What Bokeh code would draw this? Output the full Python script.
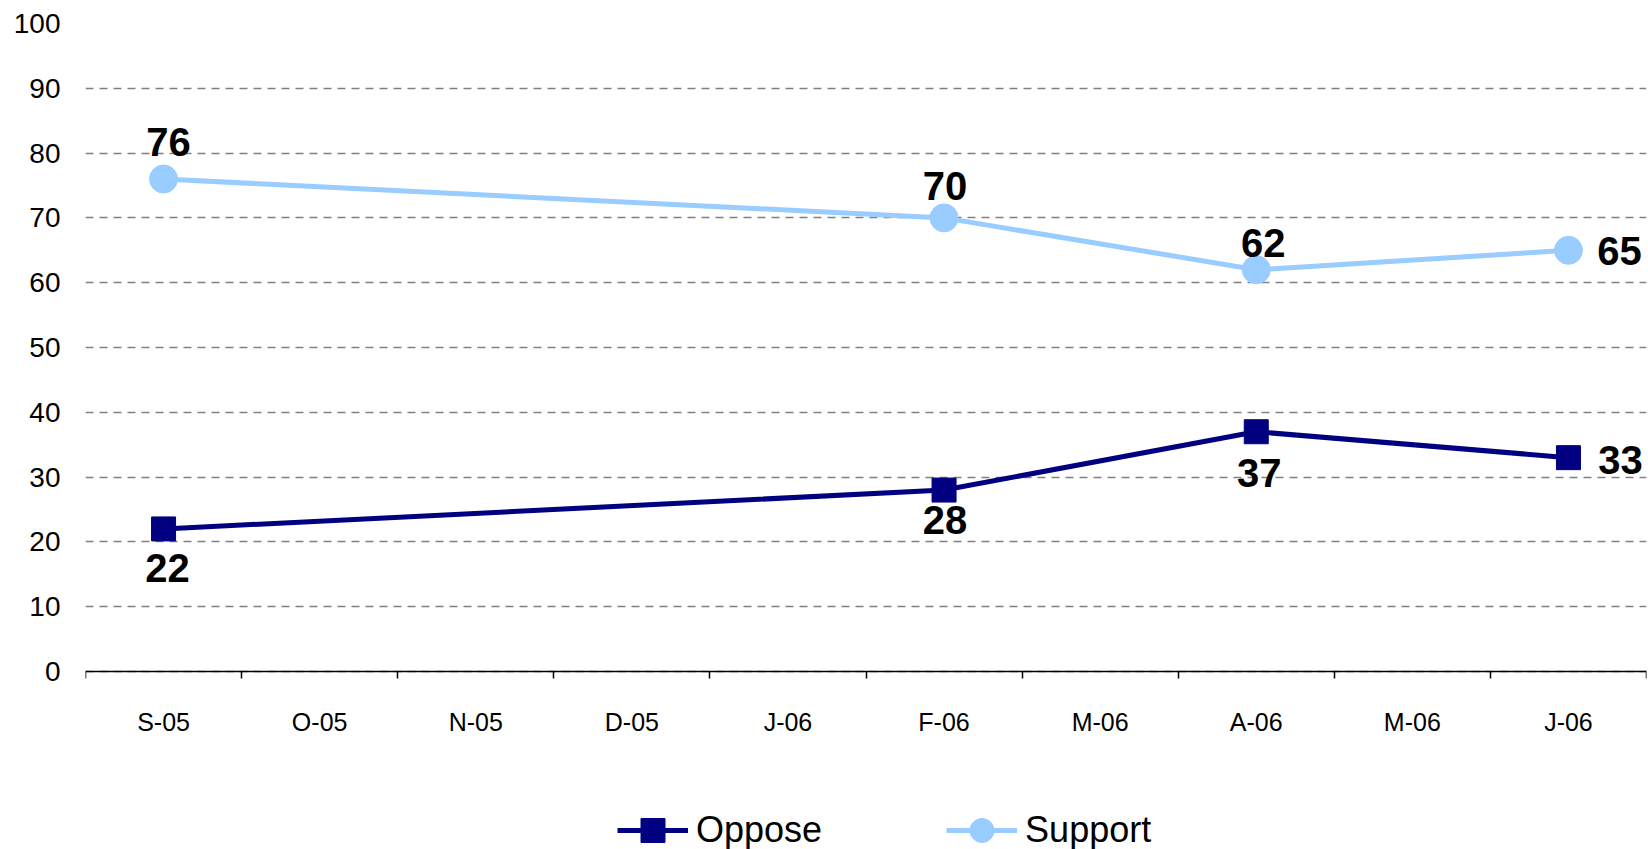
from bokeh.plotting import figure
from bokeh.models import (ColumnDataSource, Range1d, FixedTicker, Legend, LegendItem)
from bokeh.core.properties import value
from bokeh.embed import file_html
from bokeh.resources import INLINE

# ---- data ----
months = ["S-05", "O-05", "N-05", "D-05", "J-06", "F-06", "M-06", "A-06", "M-06 ", "J-06 "]
month_labels = ["S-05", "O-05", "N-05", "D-05", "J-06", "F-06", "M-06", "A-06", "M-06", "J-06"]
survey_months = ["S-05", "F-06", "A-06", "J-06 "]
support = [76, 70, 62, 65]
oppose = [22, 28, 37, 33]
y_ticks = list(range(0, 101, 10))

# label placement (screen pixel offsets, style only)
support_dx = [5, 1, 7, 51]
support_dy = [-37, -32, -27, 1]
oppose_dx = [4, 1, 3, 52]
oppose_dy = [39, 30, 41, 2]

FONT = "Liberation Sans"

xs = [months.index(m) + 0.5 for m in survey_months]

src_s = ColumnDataSource(dict(x=xs, y=support, t=[str(v) for v in support],
                              dx=support_dx, dy=support_dy))
src_o = ColumnDataSource(dict(x=xs, y=oppose, t=[str(v) for v in oppose],
                              dx=oppose_dx, dy=oppose_dy))

# frame runs to the bottom of the figure so that the legend lies inside it;
# the value axis itself shows 0..100
p = figure(width=1648, height=849, output_backend="svg", toolbar_location=None,
           x_range=Range1d(0, len(months)), y_range=Range1d(-27.47, 100),
           min_border_left=85, min_border_right=2, min_border_top=23,
           min_border_bottom=0)
p.outline_line_color = None
p.background_fill_color = "white"
p.border_fill_color = "white"

# x axis: labels at category centres, ticks at boundaries, drawn at y = 0
xa = p.xaxis[0]
xa.fixed_location = 0
xa.ticker = FixedTicker(ticks=[i + 0.5 for i in range(len(months))],
                        minor_ticks=list(range(len(months) + 1)))
xa.major_label_overrides = {i + 0.5: month_labels[i] for i in range(len(months))}
xa.major_tick_out = 0
xa.major_tick_in = 0
xa.minor_tick_out = 7
xa.minor_tick_in = 0
xa.minor_tick_line_color = "black"
xa.minor_tick_line_width = 1.5
xa.axis_line_color = "black"
xa.axis_line_width = 1.5
xa.major_label_standoff = 30
xa.major_label_text_font = FONT
xa.major_label_text_font_size = "25px"
xa.major_label_text_color = "black"

ya = p.yaxis[0]
ya.ticker = FixedTicker(ticks=y_ticks, minor_ticks=[])
ya.axis_line_color = None
ya.major_tick_line_color = None
ya.minor_tick_line_color = None
ya.major_tick_out = 0
ya.major_tick_in = 0
ya.major_label_standoff = 25
ya.major_label_text_font = FONT
ya.major_label_text_font_size = "28px"
ya.major_label_text_color = "black"

p.xgrid.grid_line_color = None
p.ygrid.grid_line_color = "#808080"
p.ygrid.grid_line_width = 1.3
p.ygrid.grid_line_dash = "8 6"

# series
sup_line = p.line("x", "y", source=src_s, line_color="#99CCFF", line_width=5)
sup_pts = p.scatter("x", "y", source=src_s, marker="circle", size=28,
                    fill_color="#99CCFF", line_color="#99CCFF")
opp_line = p.line("x", "y", source=src_o, line_color="#000080", line_width=5)
opp_pts = p.scatter("x", "y", source=src_o, marker="square", size=24,
                    fill_color="#000080", line_color="#000080")

for src in (src_s, src_o):
    p.text("x", "y", text="t", source=src, x_offset="dx", y_offset="dy",
           text_align="center", text_baseline="middle",
           text_font=value(FONT), text_font_size="40px", text_font_style="bold",
           text_color="black")

legend = Legend(items=[LegendItem(label="Oppose", renderers=[opp_line, opp_pts]),
                       LegendItem(label="Support", renderers=[sup_line, sup_pts])],
                orientation="horizontal", location=(532, -11),
                glyph_width=71, glyph_height=60, label_standoff=8, spacing=124,
                padding=0, margin=0, border_line_color=None,
                background_fill_alpha=0,
                label_text_font=FONT, label_text_font_size="36px",
                label_text_color="black")
p.add_layout(legend, "center")

open("out.html", "w").write(file_html(p, INLINE))
